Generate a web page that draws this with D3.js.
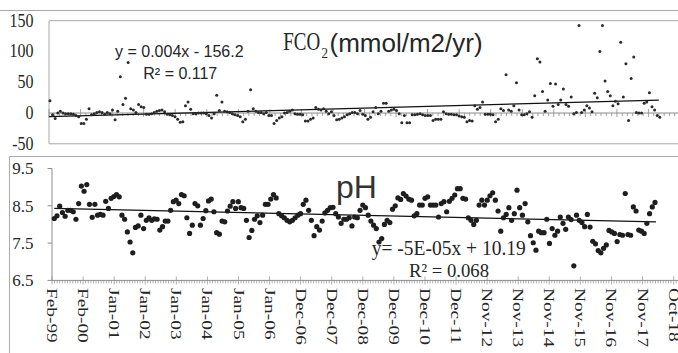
<!DOCTYPE html>
<html><head><meta charset="utf-8">
<script src="https://cdn.jsdelivr.net/npm/d3@7"></script>
<style>body{margin:0;background:#fff}svg{display:block}</style>
</head><body>
<svg id="c" width="678" height="353"></svg>
<script>
// ---------- DATA ----------
const fco2 = [
 20, -3, -9, 0, 3, 0, -1, -1, -1, -2, -4, -6,
 -17, -17, -10, 7, -3, -1, 1, 2, 1, -2, 1, -1,
 5, -11, 3, 59, 14, 24, 82, 7, 5, 1, 14, 10,
 9, -2, -2, -1, 1, 3, 4, 5, 2, -2, -3, -4,
 -6, -10, -15, -14, 12, 18, 6, -1, -1, 0, 0, 0,
 -1, -4, -8, -1, 29, 4, 18, 3, 2, 1, -1, -3,
 -4, -6, -14, -10, 3, 38, 7, 3, 1, 1, -1, 1,
 -4, -4, -17, -12, -8, -6, 0, 1, 3, 5, -1, -2,
 -2, -3, -13, -13, -10, -8, 9, 6, 5, 7, 3, -1,
 2, -4, -11, -10, -8, -6, -3, -1, 1, 1, -1, 4,
 -2, -4, -10, -7, 2, 9, -1, 3, 16, 16, 3, 5,
 6, 4, -1, -16, -4, -16, -16, -3, -3, -2, -1, -3,
 -4, -4, -4, -12, -10, -10, -10, 2, -1, -2, -2, -3,
 -3, -5, -6, -7, -14, -12, -13, 12, 6, 9, 18, -2,
 -2, -2, -3, -14, -10, 7, 4, 62, 5, 3, 12, 49,
 5, -3, -3, -1, 2, -7, 28, 88, 83, 35, 3, 21,
 48, 11, 47, 14, 21, 39, 14, 11, 26, -1, 1, 142,
 1, 5, 12, 8, 2, 32, 25, 100, 142, 52, 35, 28,
 12, 19, 15, 115, 26, 80, -12, 56, 91, 1, 0, 0,
 16, 18, 33, 10, 5, -4, -7
];
const ph = [
 8.16, 8.23, 8.49, 8.32, 8.22, 8.38, 8.38, 8.34, 8.14, 8.56,
 9.03, 8.89, 9.07, 8.54, 8.19, 8.54, 8.25, 8.27, 8.25, 8.62,
 8.43, 8.70, 8.75, 8.80, 8.74, 8.25, 8.14, 7.80, 7.53, 7.24,
 7.92, 7.96, 8.25, 7.89, 8.11, 8.18, 8.11, 8.15, 8.14, 7.85,
 7.94, 8.09, 8.09, 8.38, 8.61, 8.65, 8.56, 8.80, 8.77, 8.18,
 7.76, 7.98, 8.56, 8.50, 7.98, 8.16, 8.37, 8.63, 8.68, 8.34,
 7.78, 7.74, 8.09, 8.07, 8.36,
 8.49, 8.61, 8.43, 8.61, 8.45, 8.43, 8.11, 7.65, 7.84, 8.14,
 8.23, 8.05, 8.25, 8.54, 8.54, 8.68, 8.80, 8.71, 8.29, 8.23,
 8.18, 8.11, 8.07, 8.11, 8.18, 8.25, 8.29, 8.54, 8.65, 8.38,
 8.11, 7.70, 7.94, 7.85, 8.09, 8.31, 8.38, 8.45, 8.46, 8.29,
 8.20, 8.03, 8.14, 8.14, 8.18, 7.96, 8.20, 8.18, 8.38, 8.52,
 8.45, 8.25, 8.09, 7.98, 7.89, 7.53, 7.62, 8.00, 8.11, 8.05,
 8.41, 8.50, 8.71, 8.67, 8.83, 8.76, 8.68, 8.65, 8.23, 8.29,
 8.52, 8.52, 8.70, 8.74, 8.52, 8.52, 8.52,
 8.20, 8.56, 8.61, 8.34, 8.62, 8.70, 8.79, 8.96, 8.96, 8.70,
 8.68, 8.18, 8.11, 8.00, 8.11, 8.52, 8.65, 8.52, 8.65, 8.77,
 8.85, 8.65, 8.36, 7.82, 8.18, 8.27, 8.45, 8.11, 8.29, 8.92,
 8.45, 8.25, 8.56, 8.07, 7.70, 7.51, 7.31, 7.82, 7.78, 7.78,
 8.14, 7.49, 7.89, 7.71, 7.82, 8.20, 8.03, 7.87, 8.20, 8.13,
 6.89, 8.25, 8.11, 8.05, 7.94, 8.27, 7.93, 7.55, 7.48, 7.30,
 7.24, 7.36, 7.45, 7.84, 7.80, 7.76, 7.54, 7.73, 7.71, 8.83,
 7.73, 7.71, 8.47, 8.36, 7.85, 7.82, 7.76, 8.03, 8.29, 8.47,
 8.59
];
const fco2Ticks = [150, 100, 50, 0, -50];
const phTicks = [9.5, 8.5, 7.5, 6.5];
const xLabels = ["Feb-99","Feb-00","Jan-01","Jan-02","Jan-03","Jan-04","Jan-05","Jan-06",
 "Dec-06","Dec-07","Dec-08","Dec-09","Dec-10","Dec-11","Nov-12","Nov-13","Nov-14",
 "Nov-15","Nov-16","Nov-17","Oct-18"];
const fco2Trend = [-6, 21];     // trendline value at first / last point
const phTrend = [8.43, 8.07];
const fco2Eq = ["y = 0.004x - 156.2", "R\u00B2 = 0.117"];
const phEq = ["y= -5E-05x + 10.19", "R\u00B2 = 0.068"];

// ---------- DRAW ----------
const svg = d3.select("#c");
const gray = "#a9a9a9", axisGray = "#8c8c8c", ink = "#262626";
const serif = "'Liberation Serif','Times New Roman',serif";
const sans = "'Liberation Sans',Arial,sans-serif";

// frames
svg.append("line").attr("x1",0).attr("x2",678).attr("y1",10.5).attr("y2",10.5).attr("stroke",gray);
svg.append("path").attr("d","M9.5,353 V156.5 H678").attr("fill","none").attr("stroke",gray);

// ---- TOP PANEL ----
const yTop = d3.scaleLinear().domain([-50,150]).range([143.8,20.7]);
const yearW = 31.55;
const xYears = d3.scaleLinear().domain([0,20]).range([49, 49+yearW*20]);
const xTop = d3.scaleLinear().domain([0, fco2.length-1]).range([xYears(0.03), xYears(19.36)]);

svg.append("path").attr("d",`M678,${yTop(150)} H${xYears(0)} V${yTop(-50)} H678`)
  .attr("fill","none").attr("stroke",gray);

// zero axis with ticks
const y0 = yTop(0);
svg.append("line").attr("x1",xYears(0)).attr("x2",678).attr("y1",y0).attr("y2",y0).attr("stroke",axisGray);
const minor = d3.range(0, 20.01, 1/6);
svg.append("g").selectAll("line").data(minor).join("line")
  .attr("x1",d=>xYears(d)).attr("x2",d=>xYears(d))
  .attr("y1",d=>Math.abs(d-Math.round(d))<1e-6 ? y0-4 : y0)
  .attr("y2",d=>Math.abs(d-Math.round(d))<1e-6 ? y0+4 : y0+3)
  .attr("stroke",axisGray).attr("stroke-width",0.8);

// y labels
svg.append("g").selectAll("text").data(fco2Ticks).join("text")
  .attr("transform",d=>`translate(33.5,${yTop(d)+6}) scale(1,1.15)`)
  .attr("text-anchor","end").attr("font-family",serif).attr("font-size",16).attr("fill",ink)
  .text(d=>d);

// trend
svg.append("line").attr("x1",xYears(0)).attr("x2",xTop(fco2.length-1)-1)
  .attr("y1",yTop(fco2Trend[0])).attr("y2",yTop(fco2Trend[1]))
  .attr("stroke","#111").attr("stroke-width",1.2);

// points
svg.append("g").selectAll("circle").data(fco2).join("circle")
  .attr("cx",(d,i)=>xTop(i)).attr("cy",d=>yTop(d)).attr("r",1.5).attr("fill","#2a2a2a");

// title
svg.append("text").attr("transform","translate(283.3,50) scale(1,1.3)")
  .attr("font-family",serif).attr("font-size",19).attr("fill",ink).text("FCO");
svg.append("text").attr("transform","translate(321.5,58) scale(1,1.2)")
  .attr("font-family",serif).attr("font-size",13).attr("fill",ink).text("2");
svg.append("text").attr("x",329.5).attr("y",51.5)
  .attr("font-family",sans).attr("font-size",26).attr("fill",ink).text("(mmol/m2/yr)");
svg.append("text").attr("x",115).attr("y",57.3).attr("font-family",sans).attr("font-size",16).attr("fill",ink).text(fco2Eq[0]);
svg.append("text").attr("x",143.3).attr("y",79.3).attr("font-family",sans).attr("font-size",16).attr("fill",ink).text(fco2Eq[1]);

// ---- BOTTOM PANEL ----
const yBot = d3.scaleLinear().domain([6.5,9.5]).range([280.4,168.5]);
const xBot = d3.scaleLinear().domain([0,240]).range([52,673.6]);
const xPh = d3.scaleLinear().domain([0, ph.length-1]).range([54.3, 655]);

svg.append("line").attr("x1",52).attr("x2",52).attr("y1",yBot(9.5)).attr("y2",yBot(6.5)).attr("stroke",axisGray);
svg.append("line").attr("x1",52).attr("x2",678).attr("y1",yBot(6.5)).attr("y2",yBot(6.5)).attr("stroke",axisGray);
svg.append("g").selectAll("line").data(phTicks).join("line")
  .attr("x1",47.5).attr("x2",52).attr("y1",d=>yBot(d)).attr("y2",d=>yBot(d)).attr("stroke",axisGray);

const yb = yBot(6.5);
svg.append("g").selectAll("line").data(d3.range(0,243)).join("line")
  .attr("x1",d=>xBot(d)).attr("x2",d=>xBot(d))
  .attr("y1",d=>d%12===0 ? yb-4 : yb).attr("y2",d=>d%12===0 ? yb+4 : yb+3)
  .attr("stroke",axisGray).attr("stroke-width",0.7);

svg.append("g").selectAll("text").data(phTicks).join("text")
  .attr("x",33.5).attr("y",d=>yBot(d)+5.8).attr("text-anchor","end")
  .attr("font-family",serif).attr("font-size",17).attr("fill",ink).text(d=>d.toFixed(1));

svg.append("g").selectAll("text").data(xLabels).join("text")
  .attr("transform",(d,i)=>`translate(${xBot(i*12)},288) rotate(90) scale(1.29,1)`)
  .attr("dy","0.33em").attr("font-family",serif).attr("font-size",15).attr("fill",ink).text(d=>d);

// trend
svg.append("line").attr("x1",xPh(0)).attr("x2",xPh(ph.length-1)+1)
  .attr("y1",yBot(phTrend[0])).attr("y2",yBot(phTrend[1]))
  .attr("stroke","#111").attr("stroke-width",1.2);

svg.append("g").selectAll("circle").data(ph).join("circle")
  .attr("cx",(d,i)=>xPh(i)).attr("cy",d=>yBot(d)).attr("r",2.6).attr("fill","#1e1e1e");

svg.append("text").attr("x",336).attr("y",198.3).attr("font-family",sans).attr("font-size",32).attr("fill","#333").text("pH");
svg.append("text").attr("transform","translate(371.7,255) scale(1,1.1)")
  .attr("font-family",serif).attr("font-size",19.5).attr("fill",ink).text(phEq[0]);
svg.append("text").attr("x",409).attr("y",277).attr("font-family",serif).attr("font-size",18.7).attr("fill",ink).text(phEq[1]);
</script>
</body></html>
